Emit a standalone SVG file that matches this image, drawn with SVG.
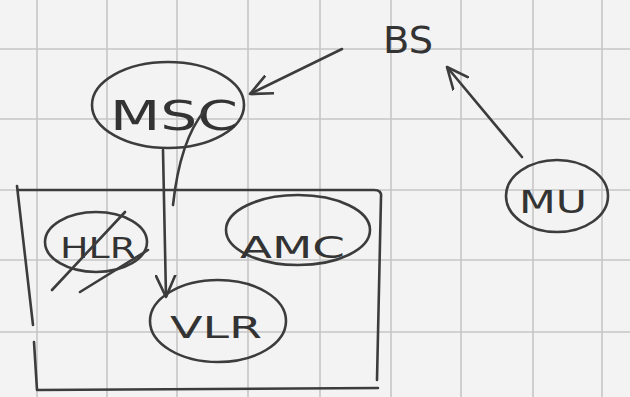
<svg xmlns="http://www.w3.org/2000/svg" width="630" height="397" viewBox="0 0 630 397">
<style>
.ink{fill:none;stroke:#3c3c3c;stroke-width:2.6;stroke-linecap:round;stroke-linejoin:round}
.lbl{font-family:"DejaVu Sans","Liberation Sans",sans-serif;fill:#333;font-weight:normal}
.grid{stroke:#c6c6c6;stroke-width:1.6}
</style>
<defs>
<marker id="ah" viewBox="0 0 10 10" refX="10" refY="5" markerWidth="22" markerHeight="22" markerUnits="userSpaceOnUse" orient="auto">
<path d="M0,0.5 L10,5 L0,9.5" fill="none" stroke="#3c3c3c" stroke-width="1.2" stroke-linecap="round"/>
</marker>
</defs>
<rect width="630" height="397" fill="#f3f3f3"/>
<g id="grid">
<path class="grid" d="M37,0V397M107,0V397M177,0V397M248,0V397M320,0V397M391,0V397M461,0V397M533,0V397M602,0V397M0,49H630M0,119H630M0,190H630M0,260H630M0,332H630"/>
</g>
<g id="container">
<path class="ink" d="M17,186 L33,325 M34,342 L37,390 L378,388 M377,380 L381,197 Q382,190 374,190 L19,190"/>
</g>
<g id="connectors">
<path class="ink" d="M342,49 L250,94" marker-end="url(#ah)"/>
<path class="ink" d="M522,157 L447,67" marker-end="url(#ah)"/>
<path class="ink" d="M163,150 L166,297" marker-end="url(#ah)"/>
</g>
<g id="BS">
<text class="lbl" x="383" y="53" font-size="38" textLength="50" lengthAdjust="spacingAndGlyphs">BS</text>
</g>
<g id="MSC">
<ellipse class="ink" cx="168" cy="105" rx="76" ry="43"/>
<text class="lbl" x="110" y="130" font-size="40" textLength="128" lengthAdjust="spacingAndGlyphs">MSC</text>
<path class="ink" d="M205,110 Q180,140 173,205"/>
</g>
<g id="MU">
<ellipse class="ink" cx="557" cy="196" rx="51" ry="36"/>
<text class="lbl" x="519" y="213" font-size="32" textLength="68" lengthAdjust="spacingAndGlyphs">MU</text>
</g>
<g id="HLR">
<ellipse class="ink" cx="96" cy="242" rx="51" ry="30"/>
<text class="lbl" x="60" y="258" font-size="28" textLength="76" lengthAdjust="spacingAndGlyphs">HLR</text>
<path class="ink" d="M52,290 L125,212 M80,292 L148,250"/>
</g>
<g id="AMC">
<ellipse class="ink" cx="298" cy="230" rx="72" ry="35"/>
<text class="lbl" x="240" y="258" font-size="30" textLength="105" lengthAdjust="spacingAndGlyphs">AMC</text>
</g>
<g id="VLR">
<ellipse class="ink" cx="218" cy="321" rx="68" ry="41"/>
<text class="lbl" x="170" y="338" font-size="30" textLength="92" lengthAdjust="spacingAndGlyphs">VLR</text>
</g>
</svg>
